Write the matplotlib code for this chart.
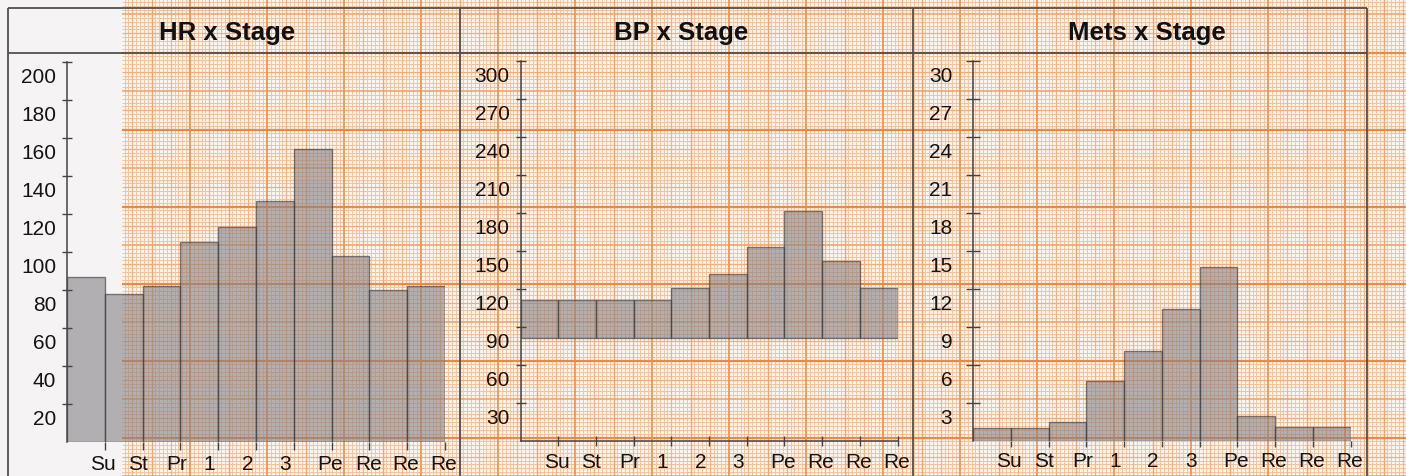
import numpy as np
import matplotlib
matplotlib.use("Agg")
import matplotlib.pyplot as plt
from matplotlib.patches import Rectangle
from matplotlib.transforms import ScaledTranslation

# данные
stages = ["Su", "St", "Pr", "1", "2", "3", "Pe", "Re", "Re", "Re"]
hr = [87, 78, 82, 105, 113, 127, 154, 98, 80, 82]
bp_low = [81, 81, 81, 81, 81, 81, 81, 81, 81, 81]
bp_high = [111, 111, 111, 111, 121, 132, 153, 182, 142, 121]
mets = [1.0, 1.0, 1.45, 4.7, 7.1, 10.4, 13.7, 1.95, 1.05, 1.1]

hr_ticks = list(range(20, 201, 20))
bp_ticks = list(range(30, 301, 30))
mets_ticks = list(range(3, 31, 3))

W, H = 1406, 477
plt.rcParams['font.family'] = ['Liberation Sans', 'DejaVu Sans']
fig = plt.figure(figsize=(W / 100, H / 100), dpi=100)


def px_rect(x0, y0, x1, y1):
    return [x0 / W, 1 - y1 / H, (x1 - x0) / W, (y1 - y0) / H]


# фон: белая бумага слева и миллиметровка справа
bg = fig.add_axes([0, 0, 1, 1], zorder=-10)
bg.set_xlim(0, W)
bg.set_ylim(H, 0)
bg.axis('off')
bg.add_patch(Rectangle((0, 0), W, H, color='#f5f3f3'))
gx0 = 122
bg.add_patch(Rectangle((gx0, 0), W - gx0, H, color='#fdf6f0'))

step = 3.85
# (цвет, толщина) для горизонтальных и вертикальных линий сетки
h_styles = {0: ('#f6c29c', 0.75), 1: ('#f3ad7c', 0.9), 2: ('#f29f62', 1.1), 3: ('#ef8840', 1.6)}
v_styles = {0: ('#f6c6a2', 0.75), 1: ('#f4b386', 0.9), 2: ('#f3a570', 1.0), 3: ('#f19552', 1.3)}


def level(k):
    if k % 20 == 0:
        return 3
    if k % 10 == 0:
        return 2
    if k % 5 == 0:
        return 1
    return 0


ks = np.arange(-200, 400)
ys = 53.5 + step * ks
xs = 652 + step * ks
for lv in range(4):
    sel_y = [y for k, y in zip(ks, ys) if level(k) == lv and 0 <= y <= H]
    sel_x = [x for k, x in zip(ks, xs) if level(k) == lv and gx0 <= x <= W]
    bg.vlines(sel_x, 0, H, color=v_styles[lv][0], lw=v_styles[lv][1], zorder=1 + lv)
    bg.hlines(sel_y, gx0, W, color=h_styles[lv][0], lw=h_styles[lv][1], zorder=1.5 + lv)

# рамка таблицы
frame = '#505050'
bg.hlines([9, 54], 8, 1367, color=frame, lw=1.3, zorder=10)
bg.vlines([8, 460, 913, 1367], 9, H, color=frame, lw=1.3, zorder=10)

for cx, title in [(227, "HR x Stage"), (681, "BP x Stage"), (1147, "Mets x Stage")]:
    fig.text(cx / W, 1 - 33 / H, title, ha='center', va='center',
             fontsize=18.5, fontweight='bold', color='#111111')

bar_face = '#858285'
bar_edge = '#333333'
pos = np.arange(len(stages))


def style_axes(ax, ticks, ymax, ypad, ytick_len, xtick_dir, xtick_len, xpad, bottom_spine):
    ax.set_facecolor('none')
    ax.set_xlim(0, len(stages))
    ax.set_ylim(0, ymax)
    for s in ['top', 'right']:
        ax.spines[s].set_visible(False)
    ax.spines['bottom'].set_visible(bottom_spine)
    for s in ['left', 'bottom']:
        ax.spines[s].set_color('#444444')
        ax.spines[s].set_linewidth(1.1)
    ax.set_yticks(ticks)
    ax.set_yticklabels([str(t) for t in ticks])
    ax.set_xticks(pos + 1)
    ax.set_xticklabels(stages)
    ax.tick_params(axis='y', direction='inout', length=ytick_len, width=1.0,
                   color='#444444', pad=ypad, labelsize=15, labelcolor='#141414')
    ax.tick_params(axis='x', direction=xtick_dir, length=xtick_len, width=1.0,
                   color='#444444', pad=xpad, labelsize=15, labelcolor='#141414')
    dy = ScaledTranslation(0, -12.5 / 100, fig.dpi_scale_trans)
    for lab in ax.get_yticklabels():
        lab.set_transform(lab.get_transform() + dy)
    dx = ScaledTranslation(-14.5 / 100, 0, fig.dpi_scale_trans)
    for lab in ax.get_xticklabels():
        lab.set_horizontalalignment('left')
        lab.set_verticalalignment('center')
        lab.set_transform(lab.get_transform() + dx)


# HR x Stage
ax1 = fig.add_axes(px_rect(67, 62.7, 445, 443.3))
ax1.bar(pos, hr, width=1.0, align='edge', color=bar_face, alpha=0.6,
        edgecolor=bar_edge, linewidth=1.0)
style_axes(ax1, hr_ticks, 200, 4.5, 6.5, 'out', 6, 9.5, False)

# BP x Stage
ax2 = fig.add_axes(px_rect(520.5, 62.3, 897.5, 441.7))
ax2.bar(pos, np.array(bp_high) - np.array(bp_low), bottom=bp_low, width=1.0,
        align='edge', color=bar_face, alpha=0.6, edgecolor=bar_edge, linewidth=1.0)
style_axes(ax2, bp_ticks, 300, 4.5, 6.5, 'inout', 7, 11.5, True)

# Mets x Stage
ax3 = fig.add_axes(px_rect(973, 62, 1350.7, 441.7))
ax3.bar(pos, mets, width=1.0, align='edge', color=bar_face, alpha=0.6,
        edgecolor=bar_edge, linewidth=1.0)
style_axes(ax3, mets_ticks, 30, 10, 10, 'out', 4, 10.5, False)

fig.savefig("out.png", dpi=100)
